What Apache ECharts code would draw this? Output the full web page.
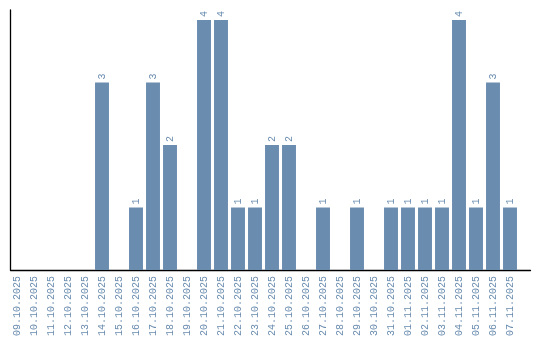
<!DOCTYPE html>
<html><head><meta charset="utf-8">
<script src="https://cdn.jsdelivr.net/npm/echarts@6/dist/echarts.min.js"></script>
<style>html,body{margin:0;padding:0;background:#fff}#c{width:540px;height:340px}</style>
</head><body><div id="c"></div>
<script>
const categories = ["09.10.2025","10.10.2025","11.10.2025","12.10.2025","13.10.2025","14.10.2025","15.10.2025","16.10.2025","17.10.2025","18.10.2025","19.10.2025","20.10.2025","21.10.2025","22.10.2025","23.10.2025","24.10.2025","25.10.2025","26.10.2025","27.10.2025","28.10.2025","29.10.2025","30.10.2025","31.10.2025","01.11.2025","02.11.2025","03.11.2025","04.11.2025","05.11.2025","06.11.2025","07.11.2025"];
const values = [0,0,0,0,0,3,0,1,3,2,0,4,4,1,1,2,2,0,1,0,1,0,1,1,1,1,4,1,3,1];
const color = '#6a8caf';
const chart = echarts.init(document.getElementById('c'), null, {renderer:'canvas'});
chart.setOption({
  animation:false,
  grid:[{left:8.5,width:510,top:10,bottom:70,containLabel:false},
        {left:10.5,right:9.5,top:10,bottom:70,containLabel:false}],
  xAxis:[{type:'category',data:categories,gridIndex:0,
    axisLine:{show:false},
    axisTick:{show:false},
    axisLabel:{rotate:90,interval:0,color:color,fontFamily:'Liberation Mono',fontSize:10,margin:6}},
    {type:'value',gridIndex:1,min:0,max:1,axisLine:{show:true,onZero:false,lineStyle:{color:'#000',width:1.3}},
     axisTick:{show:false},axisLabel:{show:false},splitLine:{show:false}}],
  yAxis:[{type:'value',min:0,max:4.16,gridIndex:0,
    axisLine:{show:false},
    axisTick:{show:false},axisLabel:{show:false},splitLine:{show:false}},
    {type:'value',gridIndex:1,min:0,max:1,axisLine:{show:true,onZero:false,lineStyle:{color:'#000',width:1.3}},
     axisTick:{show:false},axisLabel:{show:false},splitLine:{show:false}}],
  series:[{type:'bar',xAxisIndex:0,yAxisIndex:0,data:values.map(v=>v===0?{value:v,label:{show:false}}:v),barCategoryGap:'18%',
    itemStyle:{color:color},
    label:{show:true,position:'top',rotate:90,align:'left',verticalAlign:'middle',distance:3,color:color,fontFamily:'Liberation Mono',fontSize:10}}]
});
</script></body></html>
